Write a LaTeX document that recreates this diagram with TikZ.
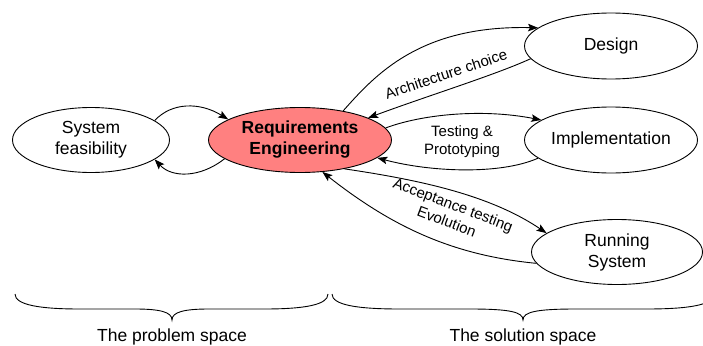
\documentclass[tikz,border=0pt]{standalone}
\usepackage{fontspec}
\setmainfont{Liberation Sans}
\usetikzlibrary{shapes.geometric,arrows.meta}
\definecolor{reqred}{HTML}{FF8080}
\begin{document}
\begin{tikzpicture}[x=1pt,y=-1pt,
  bubble/.style={ellipse, draw, line width=0.9pt, inner sep=0pt, align=center, font=\fontsize{17.5}{21}\selectfont},
  flow/.style={line width=0.9pt, -{Stealth[length=10pt,width=7.5pt,inset=2pt]}},
  lbl/.style={align=center, font=\fontsize{15}{18}\selectfont, inner sep=0pt},
  bracepath/.style={line width=0.9pt},
  caption/.style={font=\fontsize{17.5}{21}\selectfont, inner sep=0pt}]
\clip (0,0) rectangle (703,345);
\fill[white] (0,0) rectangle (703,345);
\node[bubble, minimum width=157pt, minimum height=65pt] (feas) at (91,140) {System\\feasibility};
\node[bubble, fill=reqred, minimum width=183pt, minimum height=65pt, font=\bfseries\fontsize{17.5}{21}\selectfont] (req) at (300,140) {Requirements\\Engineering};
\node[bubble, minimum width=173pt, minimum height=66pt] (des) at (611,46) {Design};
\node[bubble, minimum width=173pt, minimum height=66pt] (impl) at (611,140) {Implementation};
\node[bubble, minimum width=171pt, minimum height=65pt] (run) at (617,252) {Running\\System};

\draw[flow] (feas.17) .. controls (172,102) and (200,102) .. (req.164);
\draw[flow] (req.194) .. controls (200,178) and (172,178) .. (feas.343);

\draw[flow] (req.34) .. controls (375,75) and (420,25) .. (des.166);
\draw[flow] (des.189) .. controls (495,75) and (430,95) .. (req.18);
\node[lbl, rotate=18.4] (archlbl) at (446,74) {Architecture choice};

\draw[flow] (req.8) .. controls (420,115) and (480,108) .. (impl.164);
\draw[flow] (impl.194) .. controls (500,175) and (430,172) .. (req.347);
\node[lbl] (testlbl) at (462,142) {Testing \&\\Prototyping};

\draw[flow] (req.327) .. controls (420,180) and (490,195) .. (run.165);
\draw[flow] (run.188) .. controls (450,255) and (390,225) .. (req.305);
\node[lbl, rotate=-20.7] (acclbl) at (450,213) {Acceptance testing\\Evolution};

\draw[bracepath] (15,294) .. controls (15,305) and (40,309) .. (80,309) -- (135,309) .. controls (160,309) and (172,312) .. (172,320) .. controls (172,312) and (184,309) .. (209,309) -- (264,309) .. controls (304,309) and (328,305) .. (328,294);
\draw[bracepath] (332,294) .. controls (332,305) and (357,309) .. (400,309) -- (470,309) .. controls (510,309) and (523,312) .. (523,320) .. controls (523,312) and (536,309) .. (576,309) -- (646,309) .. controls (689,309) and (714,305) .. (714,294);

\node[caption] (probcap) at (172,337) {The problem space};
\node[caption] (solcap) at (523,337) {The solution space};
\end{tikzpicture}
\end{document}
